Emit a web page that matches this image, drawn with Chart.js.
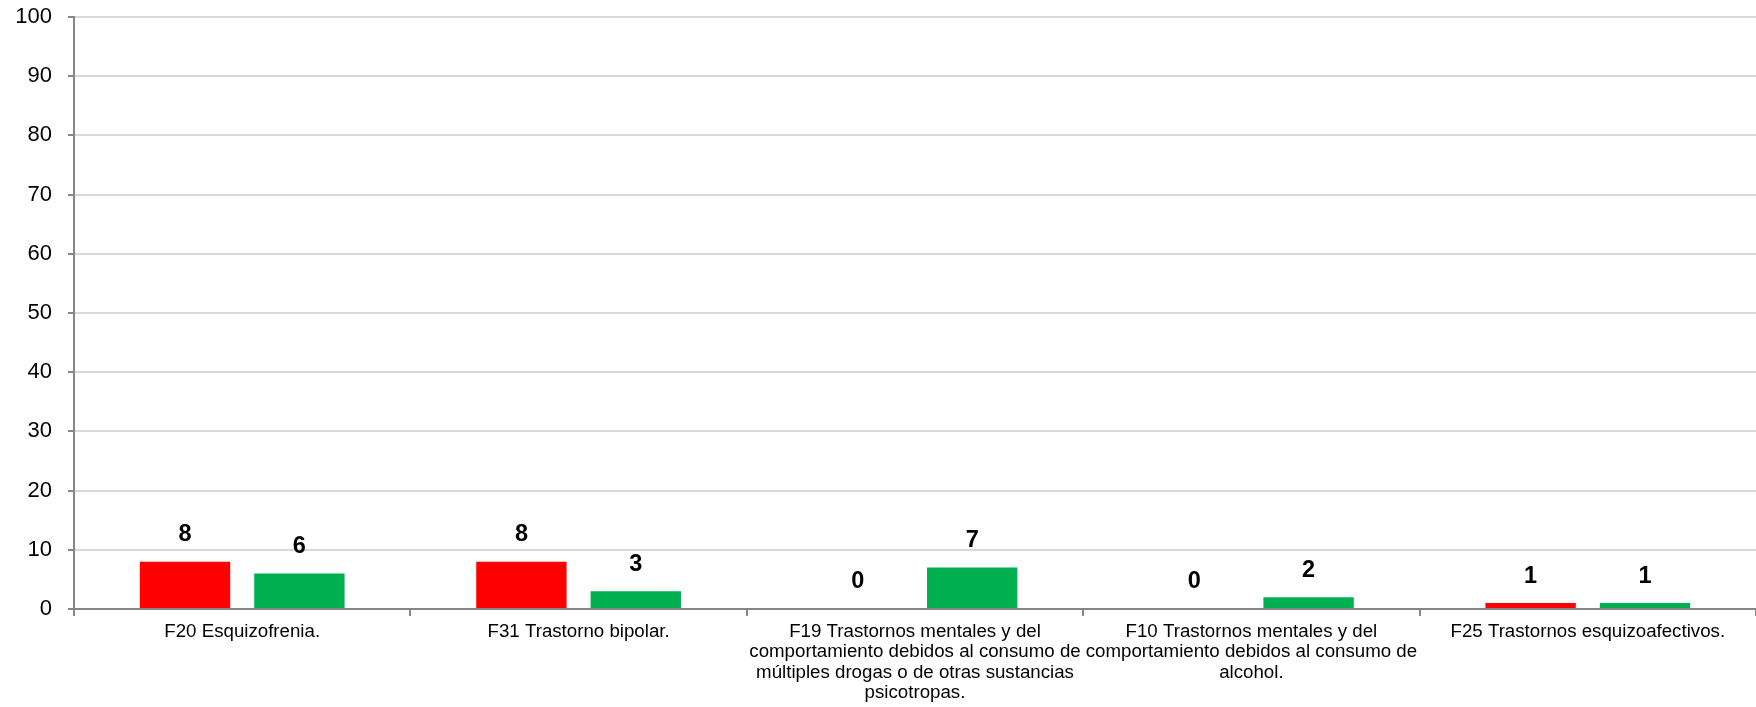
<!DOCTYPE html>
<html>
<head>
<meta charset="utf-8">
<script src="https://cdn.jsdelivr.net/npm/chart.js@4/dist/chart.umd.min.js"></script>
<style>
    html, body { margin: 0; padding: 0; background: #fff; }
    #wrap { width: 1756px; height: 707px; }
</style>
</head>
<body>
<div id="wrap"><canvas id="chart"></canvas></div>
<script>
// Chart data
const categories = [
    ['F20 Esquizofrenia.'],
    ['F31 Trastorno bipolar.'],
    ['F19 Trastornos mentales y del', 'comportamiento debidos al consumo de', 'múltiples drogas o de otras sustancias', 'psicotropas.'],
    ['F10 Trastornos mentales y del', 'comportamiento debidos al consumo de', 'alcohol.'],
    ['F25 Trastornos esquizoafectivos.']
];
const seriesRed = [8, 8, 0, 0, 1];
const seriesGreen = [6, 3, 7, 2, 1];
const yTicks = [0, 10, 20, 30, 40, 50, 60, 70, 80, 90, 100];

const FONT = '"Liberation Sans", Arial, sans-serif';

// Draws value labels above each bar
const valueLabels = {
    id: 'valueLabels',
    afterDatasetsDraw(chart) {
        const ctx = chart.ctx;
        ctx.save();
        ctx.font = 'bold 23.5px ' + FONT;
        ctx.fillStyle = '#000';
        ctx.textAlign = 'center';
        ctx.textBaseline = 'middle';
        chart.data.datasets.forEach((ds, i) => {
            chart.getDatasetMeta(i).data.forEach((bar, j) => {
                ctx.fillText(String(ds.data[j]), bar.x, bar.y - 27);
            });
        });
        ctx.restore();
    }
};

new Chart(document.getElementById('chart'), {
    type: 'bar',
    data: {
        labels: categories,
        datasets: [{
            label: 'Serie 1',
            data: seriesRed,
            backgroundColor: '#FF0000',
            categoryPercentage: 0.68,
            barPercentage: 0.79
        }, {
            label: 'Serie 2',
            data: seriesGreen,
            backgroundColor: '#00B050',
            categoryPercentage: 0.68,
            barPercentage: 0.79
        }]
    },
    options: {
        responsive: true,
        maintainAspectRatio: false,
        animation: false,
        layout: { padding: { top: 17, left: 0, right: 0, bottom: 0 } },
        plugins: {
            legend: { display: false },
            tooltip: { enabled: false }
        },
        scales: {
            x: {
                grid: {
                    display: true,
                    drawOnChartArea: false,
                    offset: true,
                    tickLength: 7,
                    color: '#868686',
                    lineWidth: 2
                },
                border: { color: '#868686', width: 2 },
                ticks: {
                    color: '#000',
                    padding: 6,
                    maxRotation: 0,
                    autoSkip: false,
                    font: { family: FONT, size: 18.7, lineHeight: 1.08 }
                },
                afterFit(scale) {
                    scale.height = 98;
                    scale.paddingLeft = 0;
                    scale.paddingRight = 0;
                }
            },
            y: {
                min: 0,
                max: 100,
                afterBuildTicks(scale) {
                    scale.ticks = yTicks.map(v => ({ value: v }));
                },
                grid: {
                    color: '#d9d9d9',
                    lineWidth: 2,
                    tickLength: 6,
                    tickColor: '#868686'
                },
                border: { color: '#868686', width: 2 },
                ticks: {
                    color: '#000',
                    padding: 16,
                    font: { family: FONT, size: 22 }
                },
                afterFit(scale) {
                    scale.width = 74;
                    scale.paddingTop = 0;
                    scale.paddingBottom = 0;
                }
            }
        }
    },
    plugins: [valueLabels]
});
</script>
</body>
</html>
